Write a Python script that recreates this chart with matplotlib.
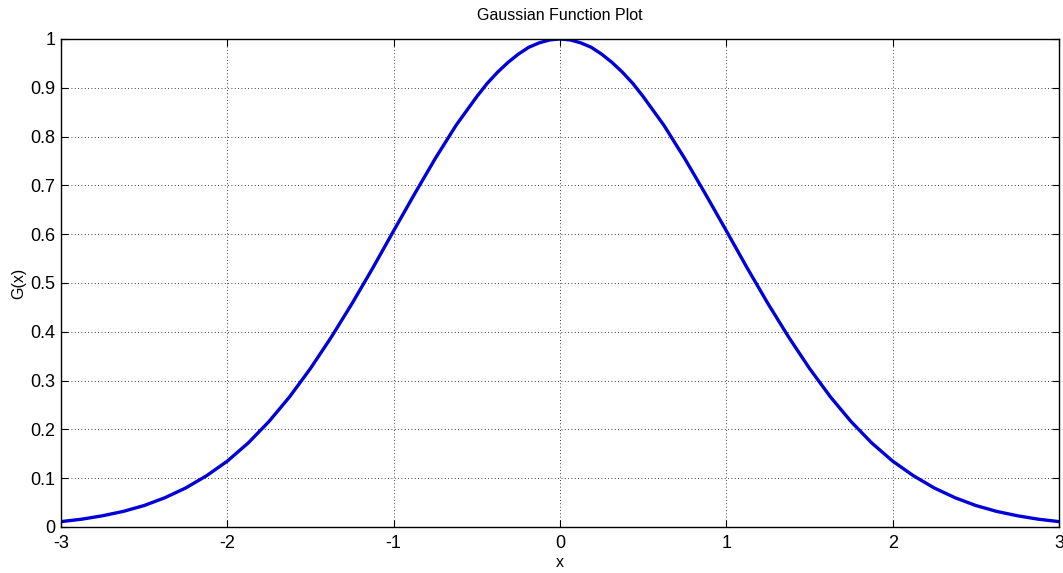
import matplotlib
matplotlib.use("Agg")
import matplotlib.pyplot as plt

plt.rcParams['font.family'] = ['Liberation Sans', 'DejaVu Sans']

# values
x_vals = [-3.0, -2.875, -2.75, -2.625, -2.5, -2.375, -2.25, -2.125, -2.0,
          -1.875, -1.75, -1.625, -1.5, -1.375, -1.25, -1.125, -1.0,
          -0.875, -0.75, -0.625, -0.5, -0.4375, -0.375, -0.3125, -0.25,
          -0.1875, -0.125, -0.0625, 0.0,
          0.0625, 0.125, 0.1875, 0.25, 0.3125, 0.375, 0.4375, 0.5,
          0.625, 0.75, 0.875, 1.0,
          1.125, 1.25, 1.375, 1.5, 1.625, 1.75, 1.875, 2.0,
          2.125, 2.25, 2.375, 2.5, 2.625, 2.75, 2.875, 3.0]
g_vals = [0.011, 0.016, 0.023, 0.032, 0.044, 0.060, 0.080, 0.105, 0.135,
          0.172, 0.216, 0.267, 0.325, 0.389, 0.458, 0.531, 0.607,
          0.682, 0.755, 0.823, 0.882, 0.909, 0.932, 0.952, 0.969,
          0.983, 0.992, 0.998, 1.0,
          0.998, 0.992, 0.983, 0.969, 0.952, 0.932, 0.909, 0.882,
          0.823, 0.755, 0.682, 0.607,
          0.531, 0.458, 0.389, 0.325, 0.267, 0.216, 0.172, 0.135,
          0.105, 0.080, 0.060, 0.044, 0.032, 0.023, 0.016, 0.011]
x_ticks = [-3, -2, -1, 0, 1, 2, 3]
x_tick_labels = ['-3', '-2', '-1', '0', '1', '2', '3']
y_ticks = [0, 0.1, 0.2, 0.3, 0.4, 0.5, 0.6, 0.7, 0.8, 0.9, 1]
y_tick_labels = ['0', '0.1', '0.2', '0.3', '0.4', '0.5', '0.6', '0.7', '0.8', '0.9', '1']

fig = plt.figure(figsize=(10.63, 5.73), dpi=100)
ax = fig.add_axes([0.0574, 0.0803, 0.9388, 0.8517])

ax.plot(x_vals, g_vals, color='#0000d8', linewidth=2.4, solid_joinstyle='round')

ax.set_xlim(-3, 3)
ax.set_ylim(0, 1)
ax.set_xticks(x_ticks)
ax.set_xticklabels(x_tick_labels)
ax.set_yticks(y_ticks)
ax.set_yticklabels(y_tick_labels)
ax.tick_params(direction='in', labelsize=13, length=5, width=0.8,
               top=True, right=True)
ax.tick_params(axis='x', pad=6)
ax.tick_params(axis='y', pad=4)
ax.grid(True, linestyle=(0, (1, 3)), color='black', linewidth=0.6)
for s in ax.spines.values():
    s.set_linewidth(1.0)

ax.set_title('Gaussian Function Plot', fontsize=11.5, pad=14)
ax.set_xlabel('x', fontsize=11.5, labelpad=2)
ax.set_ylabel('G(x)', fontsize=11.5, labelpad=3)

fig.savefig('out.png', dpi=100)
